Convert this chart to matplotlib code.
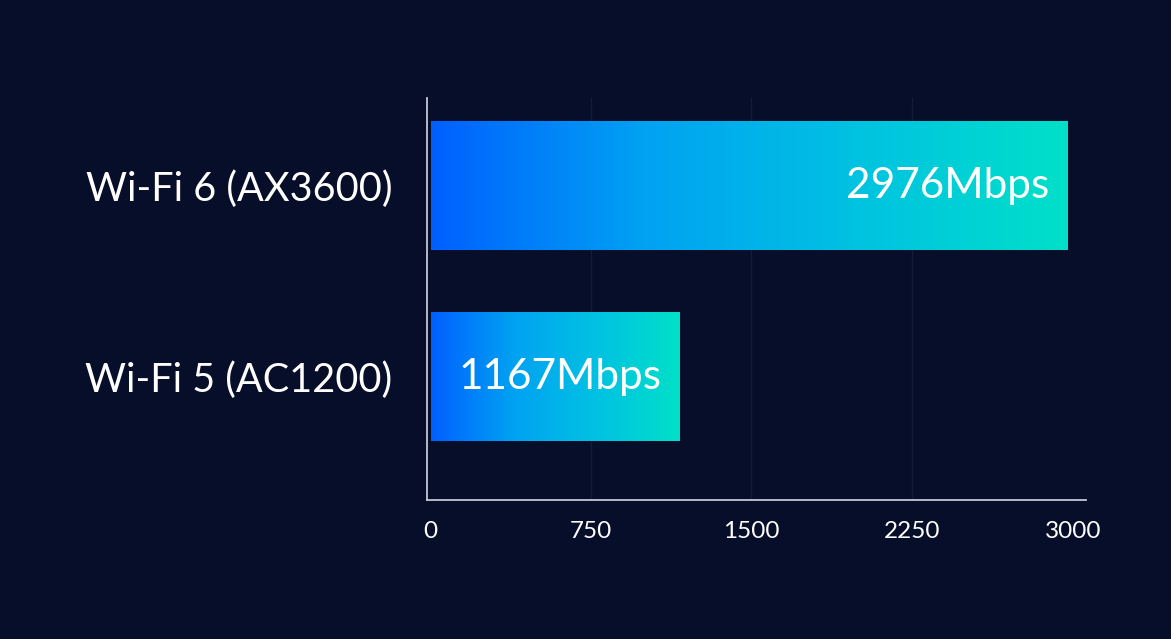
import numpy as np
import matplotlib.pyplot as plt
from matplotlib.colors import LinearSegmentedColormap

# Dados
categorias = ['Wi-Fi 5 (AC1200)', 'Wi-Fi 6 (AX3600)']
velocidades = [1167, 2976]
rotulos = ['1167Mbps', '2976Mbps']
ticks_x = [0, 750, 1500, 2250, 3000]

fundo = '#070e2a'
gradiente = LinearSegmentedColormap.from_list(
    'wifi', ['#0060ff', '#00a2f2', '#00c2e2', '#00e0c8'])

plt.rcParams['font.family'] = ['Lato', 'DejaVu Sans']

fig = plt.figure(figsize=(11.71, 6.39), dpi=100, facecolor=fundo)
ax = fig.add_axes([427/1171, (639-500)/639, (1086-427)/1171, (500-98)/639])
ax.set_facecolor(fundo)

altura = 0.675
y = np.arange(len(categorias))
barras = ax.barh(y, velocidades, height=altura, left=0, color='none')

# Preenchimento com gradiente em cada barra
grad = np.linspace(0, 1, 256).reshape(1, -1)
for barra in barras:
    x0, y0 = barra.get_x() + 5, barra.get_y()
    w, h = barra.get_width() - 5, barra.get_height()
    ax.imshow(grad, extent=[x0, x0 + w, y0, y0 + h], aspect='auto',
              cmap=gradiente, zorder=2)

for yi, v, r in zip(y, velocidades, rotulos):
    ax.text(v - 85, yi, r, ha='right', va='center', color='white',
            fontsize=30.5, zorder=3)

ax.set_xlim(-14, 3062)
ax.set_ylim(-0.644, 1.46)
ax.set_yticks(y)
ax.set_yticklabels(categorias, fontsize=28.5, color='white')
ax.set_xticks(ticks_x)
ax.set_xticklabels([str(t) for t in ticks_x], fontsize=17.5, color='white')
ax.tick_params(axis='y', length=0, pad=25)
ax.tick_params(axis='x', length=0, pad=15)

for t in ticks_x[1:-1]:
    ax.axvline(t, color='#151c3a', lw=1, zorder=1)

for lado in ['top', 'right']:
    ax.spines[lado].set_visible(False)
for lado in ['left', 'bottom']:
    ax.spines[lado].set_color('#c4c8d4')
    ax.spines[lado].set_linewidth(1.3)

plt.savefig('out.png', dpi=100, facecolor=fundo)
